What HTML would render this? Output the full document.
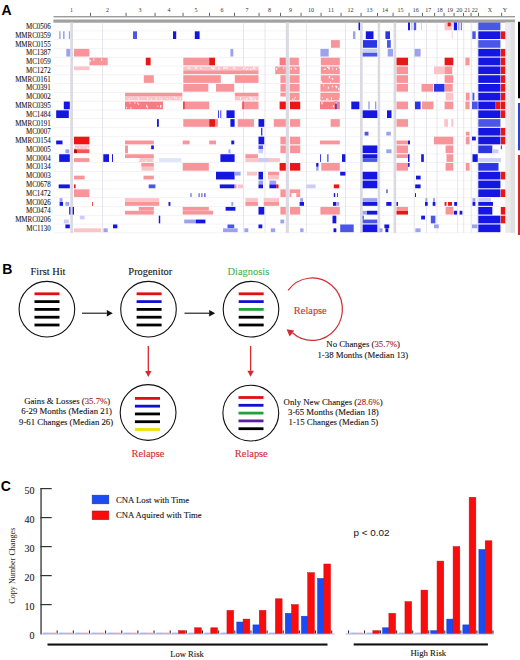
<!DOCTYPE html>
<html><head><meta charset="utf-8"><style>
html,body{margin:0;padding:0;background:#fff;}
body{width:520px;height:660px;overflow:hidden;font-family:"Liberation Serif",serif;}
svg{display:block;}
</style></head><body>
<svg width="520" height="660" viewBox="0 0 520 660" font-family="Liberation Serif">
<defs><filter id="bl" x="-2%" y="-2%" width="104%" height="104%"><feGaussianBlur stdDeviation="0.3"/></filter></defs>
<rect x="0" y="0" width="520" height="660" fill="#fff"/>
<text x="1.6" y="14.7" font-family="Liberation Sans" font-weight="bold" font-size="14">A</text>
<text x="71.5" y="11.6" font-size="6" text-anchor="middle" font-family="Liberation Serif" fill="#333">1</text>
<text x="107.5" y="11.6" font-size="6" text-anchor="middle" font-family="Liberation Serif" fill="#333">2</text>
<text x="140" y="11.6" font-size="6" text-anchor="middle" font-family="Liberation Serif" fill="#333">3</text>
<text x="169" y="11.6" font-size="6" text-anchor="middle" font-family="Liberation Serif" fill="#333">4</text>
<text x="196" y="11.6" font-size="6" text-anchor="middle" font-family="Liberation Serif" fill="#333">5</text>
<text x="222" y="11.6" font-size="6" text-anchor="middle" font-family="Liberation Serif" fill="#333">6</text>
<text x="247" y="11.6" font-size="6" text-anchor="middle" font-family="Liberation Serif" fill="#333">7</text>
<text x="269.5" y="11.6" font-size="6" text-anchor="middle" font-family="Liberation Serif" fill="#333">8</text>
<text x="290.5" y="11.6" font-size="6" text-anchor="middle" font-family="Liberation Serif" fill="#333">9</text>
<text x="311" y="11.6" font-size="6" text-anchor="middle" font-family="Liberation Serif" fill="#333">10</text>
<text x="331" y="11.6" font-size="6" text-anchor="middle" font-family="Liberation Serif" fill="#333">11</text>
<text x="350.5" y="11.6" font-size="6" text-anchor="middle" font-family="Liberation Serif" fill="#333">12</text>
<text x="369.5" y="11.6" font-size="6" text-anchor="middle" font-family="Liberation Serif" fill="#333">13</text>
<text x="385" y="11.6" font-size="6" text-anchor="middle" font-family="Liberation Serif" fill="#333">14</text>
<text x="400.5" y="11.6" font-size="6" text-anchor="middle" font-family="Liberation Serif" fill="#333">15</text>
<text x="415.7" y="11.6" font-size="6" text-anchor="middle" font-family="Liberation Serif" fill="#333">16</text>
<text x="428.3" y="11.6" font-size="6" text-anchor="middle" font-family="Liberation Serif" fill="#333">17</text>
<text x="439.7" y="11.6" font-size="6" text-anchor="middle" font-family="Liberation Serif" fill="#333">18</text>
<text x="450" y="11.6" font-size="6" text-anchor="middle" font-family="Liberation Serif" fill="#333">19</text>
<text x="459.2" y="11.6" font-size="6" text-anchor="middle" font-family="Liberation Serif" fill="#333">20</text>
<text x="467.2" y="11.6" font-size="6" text-anchor="middle" font-family="Liberation Serif" fill="#333">21</text>
<text x="474.8" y="11.6" font-size="6" text-anchor="middle" font-family="Liberation Serif" fill="#333">22</text>
<text x="489.8" y="11.6" font-size="6" text-anchor="middle" font-family="Liberation Serif" fill="#333">X</text>
<text x="505" y="11.6" font-size="6" text-anchor="middle" font-family="Liberation Serif" fill="#333">Y</text>
<rect x="90.00" y="12.80" width="0.90" height="3.60" fill="#555"/>
<rect x="125.60" y="12.80" width="0.90" height="3.60" fill="#555"/>
<rect x="154.60" y="12.80" width="0.90" height="3.60" fill="#555"/>
<rect x="182.60" y="12.80" width="0.90" height="3.60" fill="#555"/>
<rect x="209.10" y="12.80" width="0.90" height="3.60" fill="#555"/>
<rect x="234.10" y="12.80" width="0.90" height="3.60" fill="#555"/>
<rect x="258.60" y="12.80" width="0.90" height="3.60" fill="#555"/>
<rect x="280.10" y="12.80" width="0.90" height="3.60" fill="#555"/>
<rect x="300.60" y="12.80" width="0.90" height="3.60" fill="#555"/>
<rect x="320.60" y="12.80" width="0.90" height="3.60" fill="#555"/>
<rect x="340.60" y="12.80" width="0.90" height="3.60" fill="#555"/>
<rect x="360.60" y="12.80" width="0.90" height="3.60" fill="#555"/>
<rect x="377.10" y="12.80" width="0.90" height="3.60" fill="#555"/>
<rect x="392.60" y="12.80" width="0.90" height="3.60" fill="#555"/>
<rect x="408.60" y="12.80" width="0.90" height="3.60" fill="#555"/>
<rect x="422.00" y="12.80" width="0.90" height="3.60" fill="#555"/>
<rect x="434.20" y="12.80" width="0.90" height="3.60" fill="#555"/>
<rect x="443.60" y="12.80" width="0.90" height="3.60" fill="#555"/>
<rect x="453.60" y="12.80" width="0.90" height="3.60" fill="#555"/>
<rect x="463.10" y="12.80" width="0.90" height="3.60" fill="#555"/>
<rect x="470.60" y="12.80" width="0.90" height="3.60" fill="#555"/>
<rect x="478.10" y="12.80" width="0.90" height="3.60" fill="#555"/>
<rect x="501.20" y="12.80" width="0.90" height="3.60" fill="#555"/>
<rect x="53.50" y="16.00" width="461.50" height="1.40" fill="#9a9a9a"/>
<rect x="53.50" y="19.60" width="461.50" height="3.00" fill="#8c8c8c"/>
<rect x="53.50" y="20.50" width="461.50" height="1.10" fill="#b4b4b4"/>
<rect x="53.50" y="30.63" width="447.00" height="0.60" fill="#ececf2"/>
<rect x="53.50" y="39.41" width="447.00" height="0.60" fill="#ececf2"/>
<rect x="53.50" y="48.19" width="447.00" height="0.60" fill="#ececf2"/>
<rect x="53.50" y="56.97" width="447.00" height="0.60" fill="#ececf2"/>
<rect x="53.50" y="65.75" width="447.00" height="0.60" fill="#ececf2"/>
<rect x="53.50" y="74.53" width="447.00" height="0.60" fill="#ececf2"/>
<rect x="53.50" y="83.31" width="447.00" height="0.60" fill="#ececf2"/>
<rect x="53.50" y="92.09" width="447.00" height="0.60" fill="#ececf2"/>
<rect x="53.50" y="100.87" width="447.00" height="0.60" fill="#ececf2"/>
<rect x="53.50" y="109.65" width="447.00" height="0.60" fill="#ececf2"/>
<rect x="53.50" y="118.43" width="447.00" height="0.60" fill="#ececf2"/>
<rect x="53.50" y="127.21" width="447.00" height="0.60" fill="#ececf2"/>
<rect x="53.50" y="135.99" width="447.00" height="0.60" fill="#ececf2"/>
<rect x="53.50" y="144.77" width="447.00" height="0.60" fill="#ececf2"/>
<rect x="53.50" y="153.55" width="447.00" height="0.60" fill="#ececf2"/>
<rect x="53.50" y="162.33" width="447.00" height="0.60" fill="#ececf2"/>
<rect x="53.50" y="171.11" width="447.00" height="0.60" fill="#ececf2"/>
<rect x="53.50" y="179.89" width="447.00" height="0.60" fill="#ececf2"/>
<rect x="53.50" y="188.67" width="447.00" height="0.60" fill="#ececf2"/>
<rect x="53.50" y="197.45" width="447.00" height="0.60" fill="#ececf2"/>
<rect x="53.50" y="206.23" width="447.00" height="0.60" fill="#ececf2"/>
<rect x="53.50" y="215.01" width="447.00" height="0.60" fill="#ececf2"/>
<rect x="53.50" y="223.79" width="447.00" height="0.60" fill="#ececf2"/>
<rect x="53.50" y="232.57" width="447.00" height="0.60" fill="#ececf2"/>
<rect x="505.20" y="22.40" width="9.80" height="210.50" fill="#ebebeb"/>
<rect x="510.60" y="22.40" width="4.40" height="210.50" fill="#e0e0e0"/>
<rect x="102.15" y="22.40" width="0.70" height="210.50" fill="#dcdce4"/>
<rect x="243.15" y="22.40" width="0.70" height="210.50" fill="#dcdce4"/>
<rect x="264.65" y="22.40" width="0.70" height="210.50" fill="#dcdce4"/>
<rect x="305.95" y="22.40" width="0.70" height="210.50" fill="#dcdce4"/>
<rect x="345.05" y="22.40" width="0.70" height="210.50" fill="#dcdce4"/>
<rect x="413.85" y="22.40" width="0.70" height="210.50" fill="#dcdce4"/>
<rect x="426.15" y="22.40" width="0.70" height="210.50" fill="#dcdce4"/>
<rect x="436.65" y="22.40" width="0.70" height="210.50" fill="#dcdce4"/>
<rect x="457.35" y="22.40" width="0.70" height="210.50" fill="#dcdce4"/>
<rect x="463.45" y="22.40" width="0.70" height="210.50" fill="#dcdce4"/>
<rect x="470.85" y="22.40" width="0.70" height="210.50" fill="#dcdce4"/>
<rect x="476.85" y="22.40" width="0.70" height="210.50" fill="#dcdce4"/>
<rect x="70.30" y="22.40" width="2.70" height="210.50" fill="#dadae3"/>
<rect x="285.80" y="22.40" width="3.10" height="210.50" fill="#dadae3"/>
<rect x="360.00" y="22.40" width="2.70" height="210.50" fill="#dadae3"/>
<rect x="377.70" y="22.40" width="2.50" height="210.50" fill="#dadae3"/>
<rect x="393.60" y="22.40" width="2.60" height="210.50" fill="#dadae3"/>
<g filter="url(#bl)">
<rect x="358.50" y="22.55" width="1.50" height="7.65" fill="#1212e2"/>
<rect x="408.00" y="22.55" width="2.00" height="7.65" fill="#1212e2"/>
<rect x="411.50" y="22.55" width="0.80" height="7.65" fill="#9ca2ee"/>
<rect x="413.80" y="22.55" width="2.40" height="7.65" fill="#4a56e8"/>
<rect x="421.00" y="22.55" width="1.00" height="7.65" fill="#fac4c8"/>
<rect x="444.60" y="22.55" width="7.70" height="7.65" fill="#fac4c8"/>
<rect x="447.70" y="22.55" width="3.10" height="3.75" fill="#ea1818"/>
<rect x="453.80" y="22.55" width="3.20" height="7.65" fill="#1212e2"/>
<rect x="458.50" y="22.55" width="0.80" height="7.65" fill="#4a56e8"/>
<rect x="460.80" y="22.55" width="1.00" height="7.65" fill="#4a56e8"/>
<rect x="478.30" y="22.55" width="22.10" height="7.65" fill="#4a56e8"/>
<rect x="59.20" y="31.33" width="1.40" height="7.65" fill="#9ca2ee"/>
<rect x="63.00" y="31.33" width="1.60" height="7.65" fill="#9ca2ee"/>
<rect x="68.80" y="31.33" width="1.20" height="7.65" fill="#9ca2ee"/>
<rect x="133.00" y="31.33" width="4.00" height="7.65" fill="#4a56e8"/>
<rect x="173.00" y="31.33" width="3.20" height="7.65" fill="#1212e2"/>
<rect x="194.80" y="31.33" width="4.80" height="7.65" fill="#1212e2"/>
<rect x="353.00" y="31.33" width="2.40" height="7.65" fill="#9ca2ee"/>
<rect x="365.80" y="31.33" width="7.70" height="7.65" fill="#1212e2"/>
<rect x="385.40" y="31.33" width="4.60" height="7.65" fill="#2a36e4"/>
<rect x="451.80" y="31.33" width="0.80" height="7.65" fill="#fac4c8"/>
<rect x="472.30" y="31.33" width="3.40" height="7.65" fill="#4a56e8"/>
<rect x="478.30" y="31.33" width="22.10" height="7.65" fill="#1212e2"/>
<rect x="500.80" y="31.33" width="4.40" height="7.65" fill="#ea1818"/>
<rect x="331.00" y="40.11" width="8.80" height="7.65" fill="#f8959b"/>
<rect x="363.00" y="40.11" width="14.00" height="7.65" fill="#2a36e4"/>
<rect x="387.00" y="40.11" width="3.80" height="7.65" fill="#4a56e8"/>
<rect x="478.30" y="40.11" width="22.10" height="7.65" fill="#4a56e8"/>
<rect x="66.30" y="48.89" width="3.90" height="7.65" fill="#9ca2ee"/>
<rect x="74.00" y="48.89" width="15.40" height="7.65" fill="#f8959b"/>
<rect x="230.40" y="48.89" width="2.90" height="7.65" fill="#9ca2ee"/>
<rect x="320.40" y="48.89" width="8.30" height="7.65" fill="#9ca2ee"/>
<rect x="362.70" y="48.89" width="14.60" height="3.75" fill="#cacdf6"/>
<rect x="362.70" y="52.74" width="14.60" height="3.80" fill="#4a56e8"/>
<rect x="387.70" y="48.89" width="5.30" height="7.65" fill="#9ca2ee"/>
<rect x="414.60" y="48.89" width="6.00" height="7.65" fill="#9ca2ee"/>
<rect x="478.30" y="48.89" width="22.10" height="7.65" fill="#1212e2"/>
<rect x="500.80" y="48.89" width="4.40" height="7.65" fill="#ea1818"/>
<rect x="89.40" y="57.67" width="18.30" height="7.65" fill="#f8959b"/>
<rect x="145.80" y="57.67" width="4.80" height="7.65" fill="#ea1818"/>
<rect x="183.30" y="57.67" width="25.90" height="7.65" fill="#f8959b"/>
<rect x="209.20" y="57.67" width="5.80" height="7.65" fill="#ea1818"/>
<rect x="279.60" y="57.67" width="6.20" height="7.65" fill="#f47c82"/>
<rect x="289.60" y="57.67" width="9.20" height="7.65" fill="#f8959b"/>
<rect x="320.80" y="57.67" width="19.00" height="7.65" fill="#f8959b"/>
<rect x="396.50" y="57.67" width="11.50" height="7.65" fill="#ea1818"/>
<rect x="444.60" y="57.67" width="8.70" height="7.65" fill="#ea1818"/>
<rect x="465.40" y="57.67" width="4.20" height="7.65" fill="#f8959b"/>
<rect x="478.30" y="57.67" width="22.10" height="7.65" fill="#1212e2"/>
<rect x="500.80" y="57.67" width="4.40" height="7.65" fill="#ea1818"/>
<rect x="74.00" y="66.45" width="15.40" height="3.75" fill="#fac4c8"/>
<rect x="183.30" y="66.45" width="75.20" height="3.75" fill="#fac4c8"/>
<rect x="183.30" y="70.30" width="75.20" height="3.80" fill="#f8959b"/>
<rect x="275.20" y="66.45" width="10.60" height="7.65" fill="#f8959b"/>
<rect x="289.60" y="66.45" width="10.00" height="7.65" fill="#f8959b"/>
<rect x="320.80" y="66.45" width="19.00" height="7.65" fill="#f8959b"/>
<rect x="396.50" y="66.45" width="11.50" height="7.65" fill="#f8959b"/>
<rect x="434.00" y="66.45" width="10.60" height="7.65" fill="#fac4c8"/>
<rect x="444.60" y="66.45" width="7.70" height="7.65" fill="#f8959b"/>
<rect x="478.30" y="66.45" width="22.10" height="7.65" fill="#1212e2"/>
<rect x="500.80" y="66.45" width="4.40" height="7.65" fill="#ea1818"/>
<rect x="143.80" y="75.23" width="10.00" height="7.65" fill="#f8959b"/>
<rect x="183.30" y="75.23" width="37.50" height="7.65" fill="#f8959b"/>
<rect x="234.80" y="75.23" width="23.70" height="7.65" fill="#f8959b"/>
<rect x="280.40" y="75.23" width="5.40" height="7.65" fill="#f8959b"/>
<rect x="289.60" y="75.23" width="10.00" height="7.65" fill="#f8959b"/>
<rect x="320.80" y="75.23" width="19.00" height="7.65" fill="#f8959b"/>
<rect x="396.50" y="75.23" width="11.50" height="7.65" fill="#f8959b"/>
<rect x="444.60" y="75.23" width="8.70" height="7.65" fill="#f8959b"/>
<rect x="478.30" y="75.23" width="22.10" height="7.65" fill="#1212e2"/>
<rect x="500.80" y="75.23" width="4.40" height="7.65" fill="#ea1818"/>
<rect x="183.30" y="84.01" width="25.00" height="7.65" fill="#f8959b"/>
<rect x="216.00" y="84.01" width="18.20" height="7.65" fill="#f8959b"/>
<rect x="280.40" y="84.01" width="5.40" height="7.65" fill="#f8959b"/>
<rect x="289.60" y="84.01" width="10.00" height="7.65" fill="#f8959b"/>
<rect x="320.40" y="84.01" width="19.40" height="7.65" fill="#f8959b"/>
<rect x="396.50" y="84.01" width="11.50" height="7.65" fill="#f8959b"/>
<rect x="421.50" y="84.01" width="11.50" height="7.65" fill="#f8959b"/>
<rect x="434.00" y="84.01" width="10.60" height="7.65" fill="#2a36e4"/>
<rect x="444.60" y="84.01" width="8.10" height="7.65" fill="#f8959b"/>
<rect x="478.30" y="84.01" width="22.10" height="7.65" fill="#1212e2"/>
<rect x="500.80" y="84.01" width="4.40" height="7.65" fill="#ea1818"/>
<rect x="125.00" y="92.79" width="57.30" height="3.75" fill="#f8959b"/>
<rect x="125.00" y="96.64" width="57.30" height="3.80" fill="#fac4c8"/>
<rect x="234.80" y="92.79" width="23.70" height="3.75" fill="#f8959b"/>
<rect x="234.80" y="96.64" width="23.70" height="3.80" fill="#fac4c8"/>
<rect x="280.40" y="92.79" width="5.40" height="3.75" fill="#f8959b"/>
<rect x="289.60" y="92.79" width="10.00" height="7.65" fill="#f8959b"/>
<rect x="320.40" y="92.79" width="19.40" height="7.65" fill="#f8959b"/>
<rect x="445.60" y="92.79" width="7.70" height="7.65" fill="#fac4c8"/>
<rect x="465.80" y="92.79" width="3.80" height="7.65" fill="#f8959b"/>
<rect x="472.50" y="92.79" width="1.90" height="7.65" fill="#4a56e8"/>
<rect x="478.30" y="92.79" width="22.10" height="7.65" fill="#1212e2"/>
<rect x="500.80" y="92.79" width="4.40" height="7.65" fill="#ea1818"/>
<rect x="63.80" y="101.57" width="6.00" height="7.65" fill="#1212e2"/>
<rect x="125.00" y="101.57" width="38.00" height="7.65" fill="#f47c82"/>
<rect x="183.30" y="101.57" width="25.90" height="7.65" fill="#f8959b"/>
<rect x="183.30" y="101.57" width="1.20" height="7.65" fill="#ea1818"/>
<rect x="242.50" y="101.57" width="16.00" height="7.65" fill="#f8959b"/>
<rect x="242.50" y="101.57" width="1.00" height="7.65" fill="#ea1818"/>
<rect x="279.60" y="101.57" width="6.20" height="7.65" fill="#ea1818"/>
<rect x="290.00" y="101.57" width="10.20" height="7.65" fill="#ea1818"/>
<rect x="320.00" y="101.57" width="19.80" height="7.65" fill="#f47c82"/>
<rect x="335.40" y="101.57" width="1.10" height="7.65" fill="#1212e2"/>
<rect x="351.30" y="101.57" width="8.10" height="7.65" fill="#1212e2"/>
<rect x="368.60" y="101.57" width="0.80" height="7.65" fill="#4a56e8"/>
<rect x="375.40" y="101.57" width="0.80" height="7.65" fill="#4a56e8"/>
<rect x="396.50" y="101.57" width="11.50" height="7.65" fill="#f8959b"/>
<rect x="415.00" y="101.57" width="5.60" height="7.65" fill="#2a36e4"/>
<rect x="422.00" y="101.57" width="11.50" height="7.65" fill="#f8959b"/>
<rect x="444.60" y="101.57" width="8.70" height="7.65" fill="#f8959b"/>
<rect x="465.40" y="101.57" width="4.20" height="7.65" fill="#f8959b"/>
<rect x="472.00" y="101.57" width="5.70" height="7.65" fill="#4a56e8"/>
<rect x="478.30" y="101.57" width="17.30" height="7.65" fill="#1212e2"/>
<rect x="495.60" y="101.57" width="4.80" height="7.65" fill="#ea1818"/>
<rect x="500.80" y="101.57" width="4.40" height="7.65" fill="#ea1818"/>
<rect x="56.20" y="110.35" width="12.60" height="7.65" fill="#1212e2"/>
<rect x="218.20" y="110.35" width="0.80" height="7.65" fill="#1212e2"/>
<rect x="220.40" y="110.35" width="0.80" height="7.65" fill="#1212e2"/>
<rect x="226.50" y="110.35" width="8.10" height="7.65" fill="#1212e2"/>
<rect x="362.70" y="110.35" width="14.60" height="7.65" fill="#1212e2"/>
<rect x="387.00" y="110.35" width="4.50" height="7.65" fill="#1212e2"/>
<rect x="478.30" y="110.35" width="22.10" height="7.65" fill="#1212e2"/>
<rect x="500.80" y="110.35" width="4.40" height="7.65" fill="#ea1818"/>
<rect x="157.00" y="119.13" width="1.80" height="7.65" fill="#1212e2"/>
<rect x="183.30" y="119.13" width="25.90" height="7.65" fill="#f8959b"/>
<rect x="209.20" y="119.13" width="5.80" height="7.65" fill="#ea1818"/>
<rect x="215.00" y="119.13" width="3.00" height="7.65" fill="#f8959b"/>
<rect x="230.40" y="119.13" width="4.20" height="7.65" fill="#1212e2"/>
<rect x="237.70" y="119.13" width="16.30" height="7.65" fill="#f8959b"/>
<rect x="258.50" y="119.13" width="5.70" height="7.65" fill="#1212e2"/>
<rect x="273.80" y="119.13" width="12.00" height="7.65" fill="#f8959b"/>
<rect x="290.00" y="119.13" width="10.20" height="7.65" fill="#f8959b"/>
<rect x="330.60" y="119.13" width="9.20" height="7.65" fill="#f8959b"/>
<rect x="396.50" y="119.13" width="11.50" height="7.65" fill="#f8959b"/>
<rect x="444.20" y="119.13" width="3.80" height="7.65" fill="#fac4c8"/>
<rect x="451.30" y="119.13" width="2.00" height="7.65" fill="#fac4c8"/>
<rect x="478.30" y="119.13" width="22.10" height="7.65" fill="#4a56e8"/>
<rect x="261.20" y="127.91" width="1.10" height="7.65" fill="#1212e2"/>
<rect x="364.60" y="131.76" width="3.90" height="3.80" fill="#4a56e8"/>
<rect x="386.30" y="131.76" width="4.50" height="3.80" fill="#9ca2ee"/>
<rect x="465.80" y="131.76" width="3.80" height="3.80" fill="#f8959b"/>
<rect x="478.30" y="127.91" width="22.10" height="7.65" fill="#1212e2"/>
<rect x="500.80" y="127.91" width="4.40" height="7.65" fill="#ea1818"/>
<rect x="56.20" y="140.54" width="6.30" height="3.80" fill="#1212e2"/>
<rect x="74.00" y="136.69" width="15.40" height="7.65" fill="#ea1818"/>
<rect x="125.00" y="140.54" width="28.80" height="3.80" fill="#f8959b"/>
<rect x="182.70" y="140.54" width="6.90" height="3.80" fill="#f8959b"/>
<rect x="209.20" y="140.54" width="6.80" height="3.80" fill="#f8959b"/>
<rect x="231.30" y="140.54" width="2.90" height="3.80" fill="#1212e2"/>
<rect x="258.50" y="136.69" width="5.70" height="7.65" fill="#1212e2"/>
<rect x="280.40" y="136.69" width="5.40" height="7.65" fill="#f8959b"/>
<rect x="290.00" y="136.69" width="10.20" height="7.65" fill="#f8959b"/>
<rect x="320.00" y="140.54" width="19.80" height="3.80" fill="#f8959b"/>
<rect x="396.50" y="140.54" width="11.50" height="3.80" fill="#f8959b"/>
<rect x="408.00" y="140.54" width="2.00" height="3.80" fill="#1212e2"/>
<rect x="434.00" y="136.69" width="19.30" height="7.65" fill="#f8959b"/>
<rect x="465.80" y="136.69" width="3.80" height="7.65" fill="#f8959b"/>
<rect x="472.00" y="136.69" width="3.80" height="3.75" fill="#1212e2"/>
<rect x="478.30" y="136.69" width="22.10" height="7.65" fill="#1212e2"/>
<rect x="500.80" y="136.69" width="4.40" height="7.65" fill="#ea1818"/>
<rect x="74.00" y="145.47" width="15.40" height="3.75" fill="#fac4c8"/>
<rect x="74.00" y="149.32" width="3.00" height="3.80" fill="#b01010"/>
<rect x="77.00" y="149.32" width="12.40" height="3.80" fill="#f05458"/>
<rect x="65.40" y="149.32" width="3.80" height="3.80" fill="#9ca2ee"/>
<rect x="125.00" y="145.47" width="3.00" height="7.65" fill="#f8959b"/>
<rect x="151.20" y="145.47" width="2.60" height="3.75" fill="#1212e2"/>
<rect x="228.50" y="149.32" width="1.90" height="3.80" fill="#9ca2ee"/>
<rect x="258.50" y="145.47" width="4.50" height="3.75" fill="#4a56e8"/>
<rect x="258.50" y="149.32" width="4.50" height="3.80" fill="#cacdf6"/>
<rect x="280.40" y="145.47" width="5.40" height="7.65" fill="#f8959b"/>
<rect x="290.00" y="145.47" width="10.20" height="7.65" fill="#f8959b"/>
<rect x="362.70" y="145.47" width="14.60" height="7.65" fill="#1212e2"/>
<rect x="386.30" y="149.32" width="5.20" height="3.80" fill="#9ca2ee"/>
<rect x="396.50" y="145.47" width="11.50" height="7.65" fill="#f8959b"/>
<rect x="445.60" y="145.47" width="7.70" height="7.65" fill="#f8959b"/>
<rect x="478.30" y="145.47" width="14.00" height="7.65" fill="#2a36e4"/>
<rect x="492.30" y="149.32" width="6.20" height="3.80" fill="#cacdf6"/>
<rect x="500.80" y="145.47" width="1.20" height="3.75" fill="#4a56e8"/>
<rect x="59.20" y="154.25" width="10.60" height="7.65" fill="#1212e2"/>
<rect x="74.00" y="158.10" width="15.40" height="3.80" fill="#f8959b"/>
<rect x="103.30" y="154.25" width="5.70" height="7.65" fill="#1212e2"/>
<rect x="112.00" y="154.25" width="1.00" height="7.65" fill="#1212e2"/>
<rect x="125.00" y="154.25" width="28.80" height="3.75" fill="#f8959b"/>
<rect x="138.80" y="158.10" width="15.00" height="3.80" fill="#fac4c8"/>
<rect x="159.00" y="158.10" width="22.30" height="3.80" fill="#e2e4fa"/>
<rect x="220.40" y="154.25" width="14.20" height="7.65" fill="#1212e2"/>
<rect x="245.40" y="154.25" width="12.50" height="3.75" fill="#f8959b"/>
<rect x="245.40" y="158.10" width="34.60" height="3.80" fill="#fac4c8"/>
<rect x="258.50" y="158.10" width="10.00" height="3.80" fill="#cacdf6"/>
<rect x="320.20" y="154.25" width="0.80" height="7.65" fill="#1212e2"/>
<rect x="327.40" y="154.25" width="1.00" height="7.65" fill="#1212e2"/>
<rect x="342.00" y="154.25" width="3.40" height="7.65" fill="#1212e2"/>
<rect x="362.70" y="154.25" width="14.60" height="3.75" fill="#1212e2"/>
<rect x="362.70" y="158.10" width="14.60" height="3.80" fill="#4a56e8"/>
<rect x="396.50" y="154.25" width="11.50" height="3.75" fill="#f8959b"/>
<rect x="408.00" y="154.25" width="1.50" height="7.65" fill="#1212e2"/>
<rect x="421.20" y="154.25" width="2.60" height="7.65" fill="#1212e2"/>
<rect x="446.50" y="154.25" width="6.80" height="7.65" fill="#f8959b"/>
<rect x="472.50" y="154.25" width="5.20" height="7.65" fill="#1212e2"/>
<rect x="478.30" y="158.10" width="22.70" height="3.80" fill="#cacdf6"/>
<rect x="141.30" y="163.03" width="12.50" height="3.75" fill="#f8959b"/>
<rect x="141.50" y="166.88" width="12.30" height="3.80" fill="#fac4c8"/>
<rect x="182.70" y="163.03" width="26.10" height="7.65" fill="#f8959b"/>
<rect x="279.60" y="163.03" width="6.20" height="7.65" fill="#ea1818"/>
<rect x="290.00" y="163.03" width="10.20" height="7.65" fill="#ea1818"/>
<rect x="316.20" y="163.03" width="2.30" height="3.75" fill="#1212e2"/>
<rect x="316.20" y="166.88" width="2.30" height="3.80" fill="#9ca2ee"/>
<rect x="321.30" y="163.03" width="18.50" height="7.65" fill="#f8959b"/>
<rect x="396.50" y="163.03" width="11.50" height="7.65" fill="#f8959b"/>
<rect x="408.00" y="163.03" width="1.60" height="3.75" fill="#1212e2"/>
<rect x="445.60" y="163.03" width="7.70" height="7.65" fill="#f8959b"/>
<rect x="465.80" y="163.03" width="3.80" height="7.65" fill="#f8959b"/>
<rect x="478.30" y="163.03" width="20.20" height="7.65" fill="#2a36e4"/>
<rect x="74.00" y="175.66" width="10.60" height="3.80" fill="#f8959b"/>
<rect x="143.50" y="175.66" width="10.30" height="3.80" fill="#f8959b"/>
<rect x="216.00" y="171.81" width="18.60" height="7.65" fill="#1212e2"/>
<rect x="234.60" y="171.81" width="6.00" height="3.75" fill="#9ca2ee"/>
<rect x="247.00" y="171.81" width="10.00" height="3.75" fill="#fac4c8"/>
<rect x="258.50" y="171.81" width="4.50" height="7.65" fill="#1212e2"/>
<rect x="268.00" y="171.81" width="11.00" height="3.75" fill="#f8959b"/>
<rect x="268.00" y="175.66" width="11.00" height="3.80" fill="#fac4c8"/>
<rect x="340.20" y="171.81" width="5.20" height="3.75" fill="#1212e2"/>
<rect x="362.70" y="171.81" width="14.60" height="7.65" fill="#1212e2"/>
<rect x="416.00" y="175.66" width="4.60" height="3.80" fill="#1212e2"/>
<rect x="478.30" y="171.81" width="22.10" height="7.65" fill="#1212e2"/>
<rect x="500.80" y="171.81" width="4.40" height="7.65" fill="#ea1818"/>
<rect x="58.70" y="184.44" width="11.10" height="3.80" fill="#1212e2"/>
<rect x="74.00" y="184.44" width="1.60" height="3.80" fill="#ea1818"/>
<rect x="148.70" y="184.44" width="6.70" height="3.80" fill="#4a56e8"/>
<rect x="219.80" y="184.44" width="14.80" height="3.80" fill="#1212e2"/>
<rect x="234.60" y="184.44" width="1.90" height="3.80" fill="#f8959b"/>
<rect x="237.70" y="184.44" width="5.30" height="3.80" fill="#fac4c8"/>
<rect x="258.50" y="180.59" width="4.50" height="3.75" fill="#9ca2ee"/>
<rect x="258.50" y="184.44" width="4.50" height="3.80" fill="#1212e2"/>
<rect x="269.40" y="180.59" width="6.80" height="3.75" fill="#9ca2ee"/>
<rect x="269.40" y="184.44" width="6.80" height="3.80" fill="#1212e2"/>
<rect x="276.20" y="184.44" width="2.30" height="3.80" fill="#ea1818"/>
<rect x="306.50" y="184.44" width="9.10" height="3.80" fill="#cacdf6"/>
<rect x="333.80" y="184.44" width="5.40" height="3.80" fill="#ea1818"/>
<rect x="362.70" y="180.59" width="14.60" height="7.65" fill="#1212e2"/>
<rect x="415.20" y="184.44" width="5.40" height="3.80" fill="#1212e2"/>
<rect x="478.30" y="180.59" width="22.10" height="7.65" fill="#1212e2"/>
<rect x="74.00" y="189.37" width="15.40" height="7.65" fill="#f8959b"/>
<rect x="190.60" y="193.22" width="0.80" height="3.80" fill="#1212e2"/>
<rect x="198.70" y="193.22" width="0.80" height="3.80" fill="#1212e2"/>
<rect x="201.50" y="193.22" width="0.80" height="3.80" fill="#1212e2"/>
<rect x="204.40" y="193.22" width="1.00" height="3.80" fill="#1212e2"/>
<rect x="280.40" y="189.37" width="5.40" height="7.65" fill="#f8959b"/>
<rect x="289.60" y="189.37" width="10.60" height="3.75" fill="#f8959b"/>
<rect x="289.60" y="193.22" width="1.90" height="3.80" fill="#f8959b"/>
<rect x="296.30" y="193.22" width="3.90" height="3.80" fill="#f8959b"/>
<rect x="333.80" y="193.22" width="1.40" height="3.80" fill="#1212e2"/>
<rect x="337.00" y="193.22" width="0.80" height="3.80" fill="#1212e2"/>
<rect x="386.30" y="189.37" width="1.40" height="3.75" fill="#4a56e8"/>
<rect x="415.00" y="193.22" width="1.00" height="3.80" fill="#1212e2"/>
<rect x="478.30" y="189.37" width="22.10" height="7.65" fill="#1212e2"/>
<rect x="500.80" y="189.37" width="4.40" height="7.65" fill="#ea1818"/>
<rect x="59.60" y="198.15" width="2.90" height="3.75" fill="#9ca2ee"/>
<rect x="59.60" y="202.00" width="3.40" height="3.80" fill="#1212e2"/>
<rect x="65.40" y="202.00" width="3.80" height="3.80" fill="#9ca2ee"/>
<rect x="92.00" y="202.00" width="0.80" height="3.80" fill="#ea1818"/>
<rect x="125.00" y="198.15" width="34.20" height="3.75" fill="#fac4c8"/>
<rect x="125.00" y="202.00" width="34.20" height="3.80" fill="#f8959b"/>
<rect x="168.50" y="202.00" width="1.90" height="3.80" fill="#1212e2"/>
<rect x="231.30" y="202.00" width="2.00" height="3.80" fill="#9ca2ee"/>
<rect x="245.40" y="198.15" width="12.50" height="3.75" fill="#fac4c8"/>
<rect x="245.40" y="202.00" width="12.50" height="3.80" fill="#f8959b"/>
<rect x="263.70" y="198.15" width="15.30" height="3.75" fill="#fac4c8"/>
<rect x="263.70" y="202.00" width="15.30" height="3.80" fill="#f8959b"/>
<rect x="300.20" y="198.15" width="2.80" height="3.75" fill="#9ca2ee"/>
<rect x="299.60" y="202.00" width="4.40" height="3.80" fill="#1212e2"/>
<rect x="333.00" y="202.00" width="3.30" height="3.80" fill="#1212e2"/>
<rect x="336.30" y="202.00" width="2.90" height="3.80" fill="#9ca2ee"/>
<rect x="362.70" y="198.15" width="14.60" height="3.75" fill="#9ca2ee"/>
<rect x="362.70" y="202.00" width="14.60" height="3.80" fill="#1212e2"/>
<rect x="386.30" y="202.00" width="5.20" height="3.80" fill="#1212e2"/>
<rect x="396.50" y="202.00" width="1.50" height="3.80" fill="#1212e2"/>
<rect x="425.40" y="198.15" width="1.90" height="3.75" fill="#9ca2ee"/>
<rect x="425.00" y="202.00" width="2.70" height="3.80" fill="#1212e2"/>
<rect x="433.00" y="198.15" width="2.00" height="3.75" fill="#9ca2ee"/>
<rect x="432.70" y="202.00" width="2.70" height="3.80" fill="#1212e2"/>
<rect x="444.60" y="202.00" width="1.90" height="3.80" fill="#ea1818"/>
<rect x="448.00" y="202.00" width="4.00" height="3.80" fill="#ea1818"/>
<rect x="454.20" y="202.00" width="2.80" height="3.80" fill="#1212e2"/>
<rect x="472.50" y="198.15" width="2.90" height="3.75" fill="#9ca2ee"/>
<rect x="472.50" y="202.00" width="2.90" height="3.80" fill="#1212e2"/>
<rect x="478.30" y="198.15" width="12.70" height="3.75" fill="#cacdf6"/>
<rect x="478.30" y="202.00" width="14.70" height="3.80" fill="#1212e2"/>
<rect x="69.20" y="206.93" width="1.20" height="7.65" fill="#1212e2"/>
<rect x="72.70" y="206.93" width="1.30" height="7.65" fill="#1212e2"/>
<rect x="138.80" y="206.93" width="15.00" height="3.75" fill="#f8959b"/>
<rect x="125.00" y="210.78" width="28.80" height="3.80" fill="#f8959b"/>
<rect x="182.70" y="206.93" width="26.10" height="3.75" fill="#f8959b"/>
<rect x="182.70" y="210.78" width="30.30" height="3.80" fill="#f8959b"/>
<rect x="225.60" y="206.93" width="9.80" height="3.75" fill="#1212e2"/>
<rect x="258.50" y="206.93" width="5.70" height="7.65" fill="#1212e2"/>
<rect x="280.40" y="206.93" width="5.40" height="7.65" fill="#f8959b"/>
<rect x="290.00" y="206.93" width="10.20" height="7.65" fill="#f8959b"/>
<rect x="320.40" y="206.93" width="19.40" height="7.65" fill="#f8959b"/>
<rect x="396.50" y="206.93" width="11.50" height="3.75" fill="#f8959b"/>
<rect x="396.50" y="210.78" width="11.50" height="3.80" fill="#ea1818"/>
<rect x="362.70" y="210.78" width="4.30" height="3.80" fill="#9ca2ee"/>
<rect x="367.00" y="210.78" width="10.30" height="3.80" fill="#1212e2"/>
<rect x="445.60" y="206.93" width="7.70" height="7.65" fill="#f8959b"/>
<rect x="453.80" y="210.78" width="3.20" height="3.80" fill="#1212e2"/>
<rect x="459.60" y="210.78" width="2.70" height="3.80" fill="#1212e2"/>
<rect x="478.30" y="206.93" width="14.00" height="7.65" fill="#1212e2"/>
<rect x="500.80" y="206.93" width="4.40" height="7.65" fill="#ea1818"/>
<rect x="79.80" y="215.71" width="4.80" height="3.75" fill="#cacdf6"/>
<rect x="63.80" y="219.56" width="5.00" height="3.80" fill="#cacdf6"/>
<rect x="158.80" y="215.71" width="1.40" height="7.65" fill="#1212e2"/>
<rect x="184.20" y="219.56" width="11.60" height="3.80" fill="#9ca2ee"/>
<rect x="195.80" y="219.56" width="9.60" height="3.80" fill="#1212e2"/>
<rect x="280.40" y="219.56" width="3.80" height="3.80" fill="#9ca2ee"/>
<rect x="332.50" y="215.71" width="3.80" height="7.65" fill="#1212e2"/>
<rect x="362.70" y="219.56" width="14.60" height="3.80" fill="#4a56e8"/>
<rect x="362.70" y="215.71" width="0.90" height="3.75" fill="#1212e2"/>
<rect x="421.20" y="215.71" width="3.80" height="3.75" fill="#1212e2"/>
<rect x="430.80" y="215.71" width="4.60" height="7.65" fill="#4a56e8"/>
<rect x="478.30" y="215.71" width="22.10" height="7.65" fill="#1212e2"/>
<rect x="500.80" y="215.71" width="4.40" height="7.65" fill="#ea1818"/>
<rect x="65.40" y="224.49" width="4.40" height="3.75" fill="#1212e2"/>
<rect x="113.00" y="224.49" width="4.30" height="3.75" fill="#1212e2"/>
<rect x="74.00" y="228.34" width="27.00" height="3.80" fill="#fac4c8"/>
<rect x="103.50" y="228.34" width="4.20" height="3.80" fill="#9ca2ee"/>
<rect x="227.50" y="224.49" width="6.70" height="3.75" fill="#4a56e8"/>
<rect x="223.00" y="228.34" width="14.70" height="3.80" fill="#9ca2ee"/>
<rect x="258.50" y="224.49" width="3.80" height="3.75" fill="#1212e2"/>
<rect x="244.40" y="228.34" width="3.90" height="3.80" fill="#9ca2ee"/>
<rect x="270.80" y="228.34" width="4.40" height="3.80" fill="#9ca2ee"/>
<rect x="300.20" y="228.34" width="3.30" height="3.80" fill="#9ca2ee"/>
<rect x="340.20" y="224.49" width="13.50" height="7.65" fill="#4a56e8"/>
<rect x="333.50" y="228.34" width="2.80" height="3.80" fill="#1212e2"/>
<rect x="362.70" y="224.49" width="14.60" height="7.65" fill="#1212e2"/>
<rect x="384.40" y="224.49" width="4.80" height="3.75" fill="#1212e2"/>
<rect x="385.40" y="228.34" width="2.90" height="3.80" fill="#1212e2"/>
<rect x="379.60" y="228.34" width="2.90" height="3.80" fill="#9ca2ee"/>
<rect x="434.00" y="224.49" width="4.80" height="3.75" fill="#9ca2ee"/>
<rect x="415.40" y="228.34" width="5.20" height="3.80" fill="#9ca2ee"/>
<rect x="472.00" y="224.49" width="5.30" height="3.75" fill="#9ca2ee"/>
<rect x="478.30" y="224.49" width="22.10" height="7.65" fill="#1212e2"/>
<rect x="187.70" y="67.27" width="0.80" height="1.80" fill="#fff6f6"/>
<rect x="188.50" y="66.57" width="0.80" height="1.80" fill="#fff6f6"/>
<rect x="189.30" y="68.06" width="1.30" height="1.20" fill="#fff6f6"/>
<rect x="194.80" y="67.83" width="0.80" height="1.20" fill="#fff6f6"/>
<rect x="195.60" y="66.69" width="1.30" height="2.40" fill="#fff6f6"/>
<rect x="200.30" y="67.72" width="1.30" height="1.20" fill="#fff6f6"/>
<rect x="211.10" y="66.77" width="0.80" height="1.80" fill="#fff6f6"/>
<rect x="211.90" y="67.27" width="1.00" height="1.80" fill="#fff6f6"/>
<rect x="212.90" y="67.22" width="1.30" height="2.40" fill="#fff6f6"/>
<rect x="214.20" y="67.61" width="1.00" height="1.80" fill="#fff6f6"/>
<rect x="218.30" y="67.40" width="1.30" height="2.40" fill="#fff6f6"/>
<rect x="223.20" y="67.14" width="1.30" height="1.80" fill="#fff6f6"/>
<rect x="224.50" y="67.01" width="1.30" height="1.20" fill="#fff6f6"/>
<rect x="225.80" y="67.46" width="1.00" height="1.20" fill="#fff6f6"/>
<rect x="226.80" y="67.23" width="1.00" height="1.80" fill="#fff6f6"/>
<rect x="232.80" y="67.04" width="0.80" height="1.20" fill="#fff6f6"/>
<rect x="233.60" y="66.70" width="0.80" height="2.40" fill="#fff6f6"/>
<rect x="234.40" y="67.49" width="1.00" height="1.80" fill="#fff6f6"/>
<rect x="243.20" y="66.99" width="1.00" height="2.40" fill="#fff6f6"/>
<rect x="244.20" y="67.57" width="0.80" height="1.20" fill="#fff6f6"/>
<rect x="245.00" y="66.71" width="0.80" height="1.20" fill="#fff6f6"/>
<rect x="245.80" y="68.87" width="1.30" height="1.20" fill="#fff6f6"/>
<rect x="247.10" y="68.02" width="1.30" height="1.20" fill="#fff6f6"/>
<rect x="250.20" y="68.39" width="1.00" height="1.80" fill="#fff6f6"/>
<rect x="252.20" y="68.36" width="1.00" height="1.20" fill="#fff6f6"/>
<rect x="253.20" y="66.67" width="1.30" height="2.40" fill="#fff6f6"/>
<rect x="254.50" y="66.94" width="0.80" height="2.40" fill="#fff6f6"/>
<rect x="128.40" y="98.23" width="1.30" height="1.20" fill="#fff6f6"/>
<rect x="131.50" y="97.35" width="0.80" height="1.80" fill="#fff6f6"/>
<rect x="137.20" y="97.23" width="1.00" height="1.20" fill="#fff6f6"/>
<rect x="138.20" y="97.89" width="0.80" height="1.80" fill="#fff6f6"/>
<rect x="147.20" y="97.19" width="1.00" height="2.40" fill="#fff6f6"/>
<rect x="150.80" y="98.25" width="0.80" height="1.80" fill="#fff6f6"/>
<rect x="155.80" y="97.55" width="0.80" height="2.40" fill="#fff6f6"/>
<rect x="159.50" y="97.40" width="0.80" height="1.20" fill="#fff6f6"/>
<rect x="161.10" y="98.31" width="1.00" height="1.80" fill="#fff6f6"/>
<rect x="166.50" y="98.00" width="1.30" height="1.20" fill="#fff6f6"/>
<rect x="169.40" y="97.88" width="0.80" height="1.80" fill="#fff6f6"/>
<rect x="174.10" y="96.72" width="0.80" height="1.80" fill="#fff6f6"/>
<rect x="175.70" y="97.79" width="1.30" height="1.20" fill="#fff6f6"/>
<rect x="179.60" y="97.39" width="1.30" height="2.40" fill="#fff6f6"/>
<rect x="240.00" y="97.06" width="1.00" height="2.40" fill="#fff6f6"/>
<rect x="243.90" y="99.16" width="0.80" height="1.20" fill="#fff6f6"/>
<rect x="246.30" y="97.81" width="1.00" height="2.40" fill="#fff6f6"/>
<rect x="249.40" y="96.82" width="1.00" height="1.80" fill="#fff6f6"/>
<rect x="250.40" y="97.28" width="1.00" height="2.40" fill="#fff6f6"/>
<rect x="251.40" y="97.67" width="1.30" height="1.80" fill="#fff6f6"/>
<rect x="253.70" y="99.17" width="0.80" height="1.20" fill="#fff6f6"/>
<rect x="254.50" y="96.72" width="0.80" height="1.80" fill="#fff6f6"/>
<rect x="255.30" y="98.77" width="0.80" height="1.20" fill="#fff6f6"/>
<rect x="292.20" y="98.72" width="1.00" height="1.20" fill="#fff6f6"/>
<rect x="294.00" y="98.29" width="0.80" height="1.20" fill="#fff6f6"/>
<rect x="294.80" y="96.81" width="1.00" height="1.20" fill="#fff6f6"/>
<rect x="322.00" y="97.16" width="0.80" height="1.20" fill="#fff6f6"/>
<rect x="326.10" y="98.25" width="1.30" height="1.80" fill="#fff6f6"/>
<rect x="327.40" y="98.55" width="1.00" height="1.20" fill="#fff6f6"/>
<rect x="331.00" y="97.25" width="1.00" height="2.40" fill="#fff6f6"/>
<rect x="338.90" y="97.68" width="0.80" height="2.40" fill="#fff6f6"/>
<rect x="126.00" y="106.66" width="0.80" height="1.80" fill="#fff6f6"/>
<rect x="129.40" y="102.59" width="1.00" height="1.20" fill="#fff6f6"/>
<rect x="130.40" y="107.20" width="1.00" height="1.80" fill="#fff6f6"/>
<rect x="134.50" y="102.06" width="0.80" height="1.80" fill="#fff6f6"/>
<rect x="137.10" y="102.50" width="0.80" height="1.20" fill="#fff6f6"/>
<rect x="137.90" y="103.50" width="1.30" height="1.20" fill="#fff6f6"/>
<rect x="146.20" y="104.82" width="1.00" height="2.40" fill="#fff6f6"/>
<rect x="147.20" y="106.25" width="0.80" height="2.40" fill="#fff6f6"/>
<rect x="157.40" y="105.68" width="0.80" height="1.20" fill="#fff6f6"/>
<rect x="160.00" y="105.14" width="1.30" height="2.40" fill="#fff6f6"/>
<rect x="321.30" y="101.92" width="1.30" height="2.40" fill="#fff6f6"/>
<rect x="332.80" y="105.38" width="1.30" height="1.80" fill="#fff6f6"/>
<rect x="335.40" y="101.92" width="1.30" height="1.80" fill="#fff6f6"/>
<rect x="323.90" y="68.84" width="1.30" height="1.20" fill="#fff6f6"/>
<rect x="325.20" y="68.54" width="0.80" height="1.20" fill="#fff6f6"/>
<rect x="327.00" y="66.64" width="1.00" height="1.20" fill="#fff6f6"/>
<rect x="328.00" y="66.80" width="0.80" height="2.40" fill="#fff6f6"/>
<rect x="328.80" y="67.14" width="1.00" height="2.40" fill="#fff6f6"/>
<rect x="332.40" y="67.78" width="0.80" height="1.80" fill="#fff6f6"/>
<rect x="336.00" y="68.09" width="1.00" height="1.80" fill="#fff6f6"/>
<rect x="338.60" y="66.58" width="1.30" height="1.80" fill="#fff6f6"/>
<rect x="290.60" y="67.92" width="1.30" height="1.80" fill="#fff6f6"/>
<rect x="294.50" y="67.30" width="0.80" height="1.80" fill="#fff6f6"/>
<rect x="295.30" y="67.98" width="1.00" height="1.80" fill="#fff6f6"/>
<rect x="89.40" y="59.83" width="1.30" height="2.40" fill="#fff6f6"/>
<rect x="93.30" y="58.34" width="1.00" height="2.40" fill="#fff6f6"/>
<rect x="101.20" y="58.52" width="1.00" height="2.40" fill="#fff6f6"/>
<rect x="74.00" y="145.59" width="0.80" height="2.40" fill="#fff6f6"/>
<rect x="75.60" y="147.38" width="1.30" height="1.20" fill="#fff6f6"/>
<rect x="79.20" y="146.74" width="1.00" height="1.20" fill="#fff6f6"/>
<rect x="83.60" y="146.45" width="0.80" height="1.20" fill="#fff6f6"/>
<rect x="86.70" y="146.85" width="0.80" height="1.80" fill="#fff6f6"/>
<rect x="88.50" y="147.28" width="1.00" height="1.80" fill="#fff6f6"/>
<rect x="128.90" y="159.08" width="1.30" height="2.40" fill="#fff6f6"/>
<rect x="130.20" y="158.10" width="1.00" height="1.20" fill="#fff6f6"/>
<rect x="136.40" y="159.15" width="0.80" height="1.80" fill="#fff6f6"/>
<rect x="137.20" y="158.55" width="1.30" height="1.80" fill="#fff6f6"/>
<rect x="138.50" y="158.52" width="1.30" height="2.40" fill="#fff6f6"/>
<rect x="145.50" y="159.87" width="0.80" height="1.80" fill="#fff6f6"/>
<rect x="152.70" y="159.58" width="1.00" height="1.80" fill="#fff6f6"/>
<rect x="320.80" y="80.90" width="1.30" height="1.80" fill="#fff6f6"/>
<rect x="328.80" y="76.00" width="1.30" height="2.40" fill="#fff6f6"/>
<rect x="330.10" y="81.51" width="1.00" height="1.20" fill="#fff6f6"/>
<rect x="331.90" y="77.86" width="1.30" height="1.80" fill="#fff6f6"/>
<rect x="323.40" y="84.48" width="0.80" height="1.80" fill="#fff6f6"/>
<rect x="327.80" y="86.50" width="1.00" height="2.40" fill="#fff6f6"/>
<rect x="331.80" y="85.46" width="1.00" height="1.80" fill="#fff6f6"/>
<rect x="334.90" y="85.67" width="1.00" height="1.20" fill="#fff6f6"/>
<rect x="335.90" y="85.79" width="1.30" height="2.40" fill="#fff6f6"/>
<rect x="338.20" y="87.77" width="1.30" height="2.40" fill="#fff6f6"/>
<rect x="276.20" y="67.69" width="1.00" height="2.40" fill="#fff6f6"/>
<rect x="278.50" y="66.72" width="0.80" height="1.20" fill="#fff6f6"/>
<rect x="283.40" y="66.86" width="0.80" height="2.40" fill="#fff6f6"/>
</g>
<text transform="translate(50.8 29.00) scale(0.885 1)" font-size="7.9" text-anchor="end" font-family="Liberation Serif" fill="#111" stroke="#111" stroke-width="0.08">MC0506</text>
<text transform="translate(50.8 37.78) scale(0.885 1)" font-size="7.9" text-anchor="end" font-family="Liberation Serif" fill="#111" stroke="#111" stroke-width="0.08">MMRC0359</text>
<text transform="translate(50.8 46.56) scale(0.885 1)" font-size="7.9" text-anchor="end" font-family="Liberation Serif" fill="#111" stroke="#111" stroke-width="0.08">MMRC0155</text>
<text transform="translate(50.8 55.34) scale(0.885 1)" font-size="7.9" text-anchor="end" font-family="Liberation Serif" fill="#111" stroke="#111" stroke-width="0.08">MC1387</text>
<text transform="translate(50.8 64.12) scale(0.885 1)" font-size="7.9" text-anchor="end" font-family="Liberation Serif" fill="#111" stroke="#111" stroke-width="0.08">MC1059</text>
<text transform="translate(50.8 72.90) scale(0.885 1)" font-size="7.9" text-anchor="end" font-family="Liberation Serif" fill="#111" stroke="#111" stroke-width="0.08">MC1272</text>
<text transform="translate(50.8 81.68) scale(0.885 1)" font-size="7.9" text-anchor="end" font-family="Liberation Serif" fill="#111" stroke="#111" stroke-width="0.08">MMRC0161</text>
<text transform="translate(50.8 90.46) scale(0.885 1)" font-size="7.9" text-anchor="end" font-family="Liberation Serif" fill="#111" stroke="#111" stroke-width="0.08">MC0391</text>
<text transform="translate(50.8 99.24) scale(0.885 1)" font-size="7.9" text-anchor="end" font-family="Liberation Serif" fill="#111" stroke="#111" stroke-width="0.08">MC0002</text>
<text transform="translate(50.8 108.02) scale(0.885 1)" font-size="7.9" text-anchor="end" font-family="Liberation Serif" fill="#111" stroke="#111" stroke-width="0.08">MMRC0395</text>
<text transform="translate(50.8 116.80) scale(0.885 1)" font-size="7.9" text-anchor="end" font-family="Liberation Serif" fill="#111" stroke="#111" stroke-width="0.08">MC1484</text>
<text transform="translate(50.8 125.58) scale(0.885 1)" font-size="7.9" text-anchor="end" font-family="Liberation Serif" fill="#111" stroke="#111" stroke-width="0.08">MMRC0191</text>
<text transform="translate(50.8 134.36) scale(0.885 1)" font-size="7.9" text-anchor="end" font-family="Liberation Serif" fill="#111" stroke="#111" stroke-width="0.08">MC0007</text>
<text transform="translate(50.8 143.14) scale(0.885 1)" font-size="7.9" text-anchor="end" font-family="Liberation Serif" fill="#111" stroke="#111" stroke-width="0.08">MMRC0154</text>
<text transform="translate(50.8 151.92) scale(0.885 1)" font-size="7.9" text-anchor="end" font-family="Liberation Serif" fill="#111" stroke="#111" stroke-width="0.08">MC0005</text>
<text transform="translate(50.8 160.70) scale(0.885 1)" font-size="7.9" text-anchor="end" font-family="Liberation Serif" fill="#111" stroke="#111" stroke-width="0.08">MC0004</text>
<text transform="translate(50.8 169.48) scale(0.885 1)" font-size="7.9" text-anchor="end" font-family="Liberation Serif" fill="#111" stroke="#111" stroke-width="0.08">MC0134</text>
<text transform="translate(50.8 178.26) scale(0.885 1)" font-size="7.9" text-anchor="end" font-family="Liberation Serif" fill="#111" stroke="#111" stroke-width="0.08">MC0003</text>
<text transform="translate(50.8 187.04) scale(0.885 1)" font-size="7.9" text-anchor="end" font-family="Liberation Serif" fill="#111" stroke="#111" stroke-width="0.08">MC0678</text>
<text transform="translate(50.8 195.82) scale(0.885 1)" font-size="7.9" text-anchor="end" font-family="Liberation Serif" fill="#111" stroke="#111" stroke-width="0.08">MC1472</text>
<text transform="translate(50.8 204.60) scale(0.885 1)" font-size="7.9" text-anchor="end" font-family="Liberation Serif" fill="#111" stroke="#111" stroke-width="0.08">MC0026</text>
<text transform="translate(50.8 213.38) scale(0.885 1)" font-size="7.9" text-anchor="end" font-family="Liberation Serif" fill="#111" stroke="#111" stroke-width="0.08">MC0474</text>
<text transform="translate(50.8 222.16) scale(0.885 1)" font-size="7.9" text-anchor="end" font-family="Liberation Serif" fill="#111" stroke="#111" stroke-width="0.08">MMRC0206</text>
<text transform="translate(50.8 230.94) scale(0.885 1)" font-size="7.9" text-anchor="end" font-family="Liberation Serif" fill="#111" stroke="#111" stroke-width="0.08">MC1130</text>
<rect x="518.00" y="21.80" width="2.20" height="76.50" fill="#000"/>
<rect x="518.00" y="103.00" width="2.20" height="47.30" fill="#2244dd"/>
<rect x="518.00" y="155.00" width="2.20" height="80.00" fill="#dd2222"/>
<text x="2.2" y="273.9" font-family="Liberation Sans" font-weight="bold" font-size="14">B</text>
<text x="48" y="275.3" font-size="10.4" text-anchor="middle" font-family="Liberation Serif" fill="#111" stroke="#111" stroke-width="0.1">First Hit</text>
<text x="150.3" y="275.3" font-size="10.4" text-anchor="middle" font-family="Liberation Serif" fill="#111" stroke="#111" stroke-width="0.1">Progenitor</text>
<text x="248.4" y="275.3" font-size="10.4" text-anchor="middle" font-family="Liberation Serif" fill="#4cb04c" stroke="#4cb04c" stroke-width="0.1">Diagnosis</text>
<circle cx="46.9" cy="309.2" r="27.8" fill="none" stroke="#111" stroke-width="1.1"/>
<line x1="34.5" y1="293.8" x2="59.5" y2="293.8" stroke="#e01010" stroke-width="2.8"/>
<line x1="34.5" y1="301.6" x2="59.5" y2="301.6" stroke="#000" stroke-width="2.8"/>
<line x1="34.5" y1="309.40000000000003" x2="59.5" y2="309.40000000000003" stroke="#000" stroke-width="2.8"/>
<line x1="34.5" y1="317.2" x2="59.5" y2="317.2" stroke="#000" stroke-width="2.8"/>
<line x1="34.5" y1="325.0" x2="59.5" y2="325.0" stroke="#000" stroke-width="2.8"/>
<circle cx="148.5" cy="309.2" r="27.8" fill="none" stroke="#111" stroke-width="1.1"/>
<line x1="136.6" y1="293.8" x2="161.6" y2="293.8" stroke="#e01010" stroke-width="2.8"/>
<line x1="136.6" y1="301.6" x2="161.6" y2="301.6" stroke="#1010d0" stroke-width="2.8"/>
<line x1="136.6" y1="309.40000000000003" x2="161.6" y2="309.40000000000003" stroke="#000" stroke-width="2.8"/>
<line x1="136.6" y1="317.2" x2="161.6" y2="317.2" stroke="#000" stroke-width="2.8"/>
<line x1="136.6" y1="325.0" x2="161.6" y2="325.0" stroke="#000" stroke-width="2.8"/>
<circle cx="251" cy="309.2" r="27.8" fill="none" stroke="#111" stroke-width="1.1"/>
<line x1="238.7" y1="293.8" x2="263.7" y2="293.8" stroke="#e01010" stroke-width="2.8"/>
<line x1="238.7" y1="301.6" x2="263.7" y2="301.6" stroke="#1010d0" stroke-width="2.8"/>
<line x1="238.7" y1="309.40000000000003" x2="263.7" y2="309.40000000000003" stroke="#22a03a" stroke-width="2.8"/>
<line x1="238.7" y1="317.2" x2="263.7" y2="317.2" stroke="#000" stroke-width="2.8"/>
<line x1="238.7" y1="325.0" x2="263.7" y2="325.0" stroke="#000" stroke-width="2.8"/>
<line x1="82" y1="313.2" x2="106.80" y2="313.20" stroke="#111" stroke-width="1.1"/><polygon points="112.8,313.2 106.80,316.40 106.80,310.00" fill="#111"/>
<line x1="184.5" y1="313.2" x2="209.20" y2="313.20" stroke="#111" stroke-width="1.1"/><polygon points="215.2,313.2 209.20,316.40 209.20,310.00" fill="#111"/>
<line x1="148.3" y1="346" x2="148.30" y2="370.90" stroke="#d42a30" stroke-width="1.3"/><polygon points="148.3,376.9 145.10,370.90 151.50,370.90" fill="#d42a30"/>
<line x1="250.6" y1="346" x2="250.60" y2="370.80" stroke="#d42a30" stroke-width="1.3"/><polygon points="250.6,376.8 247.40,370.80 253.80,370.80" fill="#d42a30"/>
<path d="M 288.08 290.42 A 30.2 31.2 0 1 1 292.39 332.75" fill="none" stroke="#d42a30" stroke-width="1.2"/>
<polygon points="286.6,329.2 294.3,330.6 289.6,336.4" fill="#d42a30"/>
<text x="310.3" y="313.6" font-size="10.4" text-anchor="middle" font-family="Liberation Serif" fill="#d42a30" stroke="#d42a30" stroke-width="0.1">Relapse</text>
<text x="363.2" y="347.1" font-size="8.75" text-anchor="middle" font-family="Liberation Serif" fill="#111" stroke="#111" stroke-width="0.1">No Changes (<tspan fill="#d42a30">35.7%</tspan>)</text>
<text x="362.8" y="358.0" font-size="8.75" text-anchor="middle" font-family="Liberation Serif" fill="#111" stroke="#111" stroke-width="0.1">1-38 Months (Median 13)</text>
<circle cx="148.1" cy="412.5" r="27.9" fill="none" stroke="#111" stroke-width="1.1"/>
<line x1="134.9" y1="398.4" x2="160" y2="398.4" stroke="#e01010" stroke-width="2.8"/>
<line x1="134.9" y1="406.16999999999996" x2="160" y2="406.16999999999996" stroke="#1010d0" stroke-width="2.8"/>
<line x1="134.9" y1="413.94" x2="160" y2="413.94" stroke="#000" stroke-width="2.8"/>
<line x1="134.9" y1="421.71" x2="160" y2="421.71" stroke="#000" stroke-width="2.8"/>
<line x1="134.9" y1="429.47999999999996" x2="160" y2="429.47999999999996" stroke="#f0e000" stroke-width="2.8"/>
<circle cx="250.8" cy="413.1" r="27.9" fill="none" stroke="#111" stroke-width="1.1"/>
<line x1="238.5" y1="397.5" x2="263.5" y2="397.5" stroke="#e01010" stroke-width="2.8"/>
<line x1="238.5" y1="405.3" x2="263.5" y2="405.3" stroke="#1010d0" stroke-width="2.8"/>
<line x1="238.5" y1="413.1" x2="263.5" y2="413.1" stroke="#22a03a" stroke-width="2.8"/>
<line x1="238.5" y1="420.9" x2="263.5" y2="420.9" stroke="#5a1fa0" stroke-width="2.8"/>
<line x1="238.5" y1="428.7" x2="263.5" y2="428.7" stroke="#000" stroke-width="2.8"/>
<text x="148" y="457.2" font-size="10.4" text-anchor="middle" font-family="Liberation Serif" fill="#d42a30" stroke="#d42a30" stroke-width="0.1">Relapse</text>
<text x="251.3" y="457.2" font-size="10.4" text-anchor="middle" font-family="Liberation Serif" fill="#d42a30" stroke="#d42a30" stroke-width="0.1">Relapse</text>
<text x="67.2" y="404.0" font-size="8.75" text-anchor="middle" font-family="Liberation Serif" fill="#111" stroke="#111" stroke-width="0.1">Gains &amp; Losses (<tspan fill="#d42a30">35.7%</tspan>)</text>
<text x="66.6" y="414.0" font-size="8.75" text-anchor="middle" font-family="Liberation Serif" fill="#111" stroke="#111" stroke-width="0.1">6-29 Months (Median 21)</text>
<text x="66.1" y="425.2" font-size="8.75" text-anchor="middle" font-family="Liberation Serif" fill="#111" stroke="#111" stroke-width="0.1">9-61 Changes (Median 26)</text>
<text x="333.2" y="404.6" font-size="8.75" text-anchor="middle" font-family="Liberation Serif" fill="#111" stroke="#111" stroke-width="0.1">Only New Changes (<tspan fill="#d42a30">28.6%</tspan>)</text>
<text x="333.4" y="415.4" font-size="8.75" text-anchor="middle" font-family="Liberation Serif" fill="#111" stroke="#111" stroke-width="0.1">3-65 Months (Median 18)</text>
<text x="333.4" y="425.0" font-size="8.75" text-anchor="middle" font-family="Liberation Serif" fill="#111" stroke="#111" stroke-width="0.1">1-15 Changes (Median 5)</text>
<text x="0.8" y="490.9" font-family="Liberation Sans" font-weight="bold" font-size="14">C</text>
<rect x="40.40" y="488.20" width="1.30" height="146.20" fill="#333"/>
<text x="34.5" y="638.7" font-size="10" text-anchor="end" font-family="Liberation Serif" fill="#222" stroke="#222" stroke-width="0.1">0</text>
<rect x="40.40" y="604.00" width="11.30" height="1.20" fill="#333"/>
<text x="34.5" y="609.7" font-size="10" text-anchor="end" font-family="Liberation Serif" fill="#222" stroke="#222" stroke-width="0.1">10</text>
<rect x="40.40" y="575.00" width="11.30" height="1.20" fill="#333"/>
<text x="34.5" y="580.7" font-size="10" text-anchor="end" font-family="Liberation Serif" fill="#222" stroke="#222" stroke-width="0.1">20</text>
<rect x="40.40" y="546.00" width="11.30" height="1.20" fill="#333"/>
<text x="34.5" y="551.7" font-size="10" text-anchor="end" font-family="Liberation Serif" fill="#222" stroke="#222" stroke-width="0.1">30</text>
<rect x="40.40" y="517.00" width="11.30" height="1.20" fill="#333"/>
<text x="34.5" y="522.7" font-size="10" text-anchor="end" font-family="Liberation Serif" fill="#222" stroke="#222" stroke-width="0.1">40</text>
<rect x="40.40" y="488.00" width="11.30" height="1.20" fill="#333"/>
<text x="34.5" y="493.70000000000005" font-size="10" text-anchor="end" font-family="Liberation Serif" fill="#222" stroke="#222" stroke-width="0.1">50</text>
<text x="0" y="0" font-size="8.1" text-anchor="middle" font-family="Liberation Serif" fill="#222" transform="translate(15.2 565.7) rotate(-90)">Copy Number Changes</text>
<rect x="92.20" y="495.20" width="16.60" height="8.60" fill="#1b4cf2" stroke="#1030b0" stroke-width="0.6"/>
<rect x="92.20" y="511.00" width="16.60" height="8.60" fill="#f80c0c" stroke="#c00808" stroke-width="0.6"/>
<text x="116" y="503.2" font-size="8.7" text-anchor="start" font-family="Liberation Serif" fill="#111" stroke="#111" stroke-width="0.1">CNA Lost with Time</text>
<text x="116" y="517.8" font-size="8.7" text-anchor="start" font-family="Liberation Serif" fill="#111" stroke="#111" stroke-width="0.1">CNA Aquired with Time</text>
<text x="353.6" y="536" font-size="9.9" font-family="Liberation Sans" fill="#111">p &lt; 0.02</text>
<rect x="43.00" y="632.70" width="6.30" height="0.90" fill="#8898ee"/>
<rect x="49.30" y="632.70" width="6.70" height="0.90" fill="#f08888"/>
<rect x="56.65" y="630.40" width="1.00" height="3.20" fill="#222"/>
<rect x="59.15" y="632.70" width="6.30" height="0.90" fill="#8898ee"/>
<rect x="65.45" y="632.70" width="6.70" height="0.90" fill="#f08888"/>
<rect x="72.80" y="630.40" width="1.00" height="3.20" fill="#222"/>
<rect x="75.30" y="632.70" width="6.30" height="0.90" fill="#8898ee"/>
<rect x="81.60" y="632.70" width="6.70" height="0.90" fill="#f08888"/>
<rect x="88.95" y="630.40" width="1.00" height="3.20" fill="#222"/>
<rect x="91.45" y="632.70" width="6.30" height="0.90" fill="#8898ee"/>
<rect x="97.75" y="632.70" width="6.70" height="0.90" fill="#f08888"/>
<rect x="105.10" y="630.40" width="1.00" height="3.20" fill="#222"/>
<rect x="107.60" y="632.70" width="6.30" height="0.90" fill="#8898ee"/>
<rect x="113.90" y="632.70" width="6.70" height="0.90" fill="#f08888"/>
<rect x="121.25" y="630.40" width="1.00" height="3.20" fill="#222"/>
<rect x="123.75" y="632.70" width="6.30" height="0.90" fill="#8898ee"/>
<rect x="130.05" y="632.70" width="6.70" height="0.90" fill="#f08888"/>
<rect x="137.40" y="630.40" width="1.00" height="3.20" fill="#222"/>
<rect x="139.90" y="632.70" width="6.30" height="0.90" fill="#8898ee"/>
<rect x="146.20" y="632.70" width="6.70" height="0.90" fill="#f08888"/>
<rect x="153.55" y="630.40" width="1.00" height="3.20" fill="#222"/>
<rect x="156.05" y="632.70" width="6.30" height="0.90" fill="#8898ee"/>
<rect x="162.35" y="632.70" width="6.70" height="0.90" fill="#f08888"/>
<rect x="169.70" y="630.40" width="1.00" height="3.20" fill="#222"/>
<rect x="172.20" y="632.70" width="6.30" height="0.90" fill="#8898ee"/>
<rect x="178.50" y="632.70" width="6.70" height="0.90" fill="#f80c0c"/>
<rect x="178.50" y="630.70" width="6.70" height="2.90" fill="#f80c0c" stroke="#d00a0a" stroke-width="0.5"/>
<rect x="185.85" y="630.40" width="1.00" height="3.20" fill="#222"/>
<rect x="188.35" y="632.70" width="6.30" height="0.90" fill="#8898ee"/>
<rect x="194.65" y="632.70" width="6.70" height="0.90" fill="#f80c0c"/>
<rect x="194.65" y="627.80" width="6.70" height="5.80" fill="#f80c0c" stroke="#d00a0a" stroke-width="0.5"/>
<rect x="202.00" y="630.40" width="1.00" height="3.20" fill="#222"/>
<rect x="204.50" y="632.70" width="6.30" height="0.90" fill="#8898ee"/>
<rect x="210.80" y="632.70" width="6.70" height="0.90" fill="#f80c0c"/>
<rect x="210.80" y="627.80" width="6.70" height="5.80" fill="#f80c0c" stroke="#d00a0a" stroke-width="0.5"/>
<rect x="218.15" y="630.40" width="1.00" height="3.20" fill="#222"/>
<rect x="220.65" y="632.70" width="6.30" height="0.90" fill="#8898ee"/>
<rect x="226.95" y="632.70" width="6.70" height="0.90" fill="#f80c0c"/>
<rect x="226.95" y="610.40" width="6.70" height="23.20" fill="#f80c0c" stroke="#d00a0a" stroke-width="0.5"/>
<rect x="234.30" y="630.40" width="1.00" height="3.20" fill="#222"/>
<rect x="236.80" y="632.70" width="6.30" height="0.90" fill="#1b4cf2"/>
<rect x="243.10" y="632.70" width="6.70" height="0.90" fill="#f80c0c"/>
<rect x="236.80" y="622.00" width="6.30" height="11.60" fill="#1b4cf2" stroke="#1438c0" stroke-width="0.5"/>
<rect x="243.10" y="619.10" width="6.70" height="14.50" fill="#f80c0c" stroke="#d00a0a" stroke-width="0.5"/>
<rect x="250.45" y="630.40" width="1.00" height="3.20" fill="#222"/>
<rect x="252.95" y="632.70" width="6.30" height="0.90" fill="#1b4cf2"/>
<rect x="259.25" y="632.70" width="6.70" height="0.90" fill="#f80c0c"/>
<rect x="252.95" y="624.90" width="6.30" height="8.70" fill="#1b4cf2" stroke="#1438c0" stroke-width="0.5"/>
<rect x="259.25" y="610.40" width="6.70" height="23.20" fill="#f80c0c" stroke="#d00a0a" stroke-width="0.5"/>
<rect x="266.60" y="630.40" width="1.00" height="3.20" fill="#222"/>
<rect x="269.10" y="632.70" width="6.30" height="0.90" fill="#8898ee"/>
<rect x="275.40" y="632.70" width="6.70" height="0.90" fill="#f80c0c"/>
<rect x="275.40" y="598.80" width="6.70" height="34.80" fill="#f80c0c" stroke="#d00a0a" stroke-width="0.5"/>
<rect x="282.75" y="630.40" width="1.00" height="3.20" fill="#222"/>
<rect x="285.25" y="632.70" width="6.30" height="0.90" fill="#1b4cf2"/>
<rect x="291.55" y="632.70" width="6.70" height="0.90" fill="#f80c0c"/>
<rect x="285.25" y="613.30" width="6.30" height="20.30" fill="#1b4cf2" stroke="#1438c0" stroke-width="0.5"/>
<rect x="291.55" y="604.60" width="6.70" height="29.00" fill="#f80c0c" stroke="#d00a0a" stroke-width="0.5"/>
<rect x="298.90" y="630.40" width="1.00" height="3.20" fill="#222"/>
<rect x="301.40" y="632.70" width="6.30" height="0.90" fill="#1b4cf2"/>
<rect x="307.70" y="632.70" width="6.70" height="0.90" fill="#f80c0c"/>
<rect x="301.40" y="616.20" width="6.30" height="17.40" fill="#1b4cf2" stroke="#1438c0" stroke-width="0.5"/>
<rect x="307.70" y="572.70" width="6.70" height="60.90" fill="#f80c0c" stroke="#d00a0a" stroke-width="0.5"/>
<rect x="315.05" y="630.40" width="1.00" height="3.20" fill="#222"/>
<rect x="317.55" y="632.70" width="6.30" height="0.90" fill="#1b4cf2"/>
<rect x="323.85" y="632.70" width="6.70" height="0.90" fill="#f80c0c"/>
<rect x="317.55" y="578.50" width="6.30" height="55.10" fill="#1b4cf2" stroke="#1438c0" stroke-width="0.5"/>
<rect x="323.85" y="564.00" width="6.70" height="69.60" fill="#f80c0c" stroke="#d00a0a" stroke-width="0.5"/>
<rect x="331.20" y="630.40" width="1.00" height="3.20" fill="#222"/>
<rect x="41.00" y="633.60" width="293.40" height="0.80" fill="#9aa0e0"/>
<rect x="348.10" y="630.40" width="1.00" height="3.20" fill="#222"/>
<rect x="350.50" y="632.70" width="6.30" height="0.90" fill="#8898ee"/>
<rect x="356.80" y="632.70" width="6.70" height="0.90" fill="#f08888"/>
<rect x="364.05" y="630.40" width="1.00" height="3.20" fill="#222"/>
<rect x="366.55" y="632.70" width="6.30" height="0.90" fill="#8898ee"/>
<rect x="372.85" y="632.70" width="6.70" height="0.90" fill="#f80c0c"/>
<rect x="372.85" y="630.70" width="6.70" height="2.90" fill="#f80c0c" stroke="#d00a0a" stroke-width="0.5"/>
<rect x="380.10" y="630.40" width="1.00" height="3.20" fill="#222"/>
<rect x="382.60" y="632.70" width="6.30" height="0.90" fill="#1b4cf2"/>
<rect x="388.90" y="632.70" width="6.70" height="0.90" fill="#f80c0c"/>
<rect x="382.60" y="627.80" width="6.30" height="5.80" fill="#1b4cf2" stroke="#1438c0" stroke-width="0.5"/>
<rect x="388.90" y="613.30" width="6.70" height="20.30" fill="#f80c0c" stroke="#d00a0a" stroke-width="0.5"/>
<rect x="396.15" y="630.40" width="1.00" height="3.20" fill="#222"/>
<rect x="398.65" y="632.70" width="6.30" height="0.90" fill="#8898ee"/>
<rect x="404.95" y="632.70" width="6.70" height="0.90" fill="#f80c0c"/>
<rect x="404.95" y="601.70" width="6.70" height="31.90" fill="#f80c0c" stroke="#d00a0a" stroke-width="0.5"/>
<rect x="412.20" y="630.40" width="1.00" height="3.20" fill="#222"/>
<rect x="414.70" y="632.70" width="6.30" height="0.90" fill="#8898ee"/>
<rect x="421.00" y="632.70" width="6.70" height="0.90" fill="#f80c0c"/>
<rect x="421.00" y="590.10" width="6.70" height="43.50" fill="#f80c0c" stroke="#d00a0a" stroke-width="0.5"/>
<rect x="428.25" y="630.40" width="1.00" height="3.20" fill="#222"/>
<rect x="430.75" y="632.70" width="6.30" height="0.90" fill="#1b4cf2"/>
<rect x="437.05" y="632.70" width="6.70" height="0.90" fill="#f80c0c"/>
<rect x="430.75" y="630.70" width="6.30" height="2.90" fill="#1b4cf2" stroke="#1438c0" stroke-width="0.5"/>
<rect x="437.05" y="561.10" width="6.70" height="72.50" fill="#f80c0c" stroke="#d00a0a" stroke-width="0.5"/>
<rect x="444.30" y="630.40" width="1.00" height="3.20" fill="#222"/>
<rect x="446.80" y="632.70" width="6.30" height="0.90" fill="#1b4cf2"/>
<rect x="453.10" y="632.70" width="6.70" height="0.90" fill="#f80c0c"/>
<rect x="446.80" y="619.10" width="6.30" height="14.50" fill="#1b4cf2" stroke="#1438c0" stroke-width="0.5"/>
<rect x="453.10" y="546.60" width="6.70" height="87.00" fill="#f80c0c" stroke="#d00a0a" stroke-width="0.5"/>
<rect x="460.35" y="630.40" width="1.00" height="3.20" fill="#222"/>
<rect x="462.85" y="632.70" width="6.30" height="0.90" fill="#1b4cf2"/>
<rect x="469.15" y="632.70" width="6.70" height="0.90" fill="#f80c0c"/>
<rect x="462.85" y="624.90" width="6.30" height="8.70" fill="#1b4cf2" stroke="#1438c0" stroke-width="0.5"/>
<rect x="469.15" y="497.30" width="6.70" height="136.30" fill="#f80c0c" stroke="#d00a0a" stroke-width="0.5"/>
<rect x="476.40" y="630.40" width="1.00" height="3.20" fill="#222"/>
<rect x="478.90" y="632.70" width="6.30" height="0.90" fill="#1b4cf2"/>
<rect x="485.20" y="632.70" width="6.70" height="0.90" fill="#f80c0c"/>
<rect x="478.90" y="549.50" width="6.30" height="84.10" fill="#1b4cf2" stroke="#1438c0" stroke-width="0.5"/>
<rect x="485.20" y="540.80" width="6.70" height="92.80" fill="#f80c0c" stroke="#d00a0a" stroke-width="0.5"/>
<rect x="492.45" y="630.40" width="1.00" height="3.20" fill="#222"/>
<rect x="345.60" y="633.60" width="148.60" height="0.80" fill="#9aa0e0"/>
<rect x="47.50" y="643.50" width="280.00" height="2.10" fill="#111"/>
<rect x="353.70" y="643.40" width="134.20" height="2.10" fill="#111"/>
<text x="187" y="657.2" font-size="8.6" text-anchor="middle" font-family="Liberation Serif" fill="#111" stroke="#111" stroke-width="0.1">Low Risk</text>
<text x="428.3" y="656.4" font-size="8.75" text-anchor="middle" font-family="Liberation Serif" fill="#111" stroke="#111" stroke-width="0.1">High Risk</text>
</svg>
</body></html>
